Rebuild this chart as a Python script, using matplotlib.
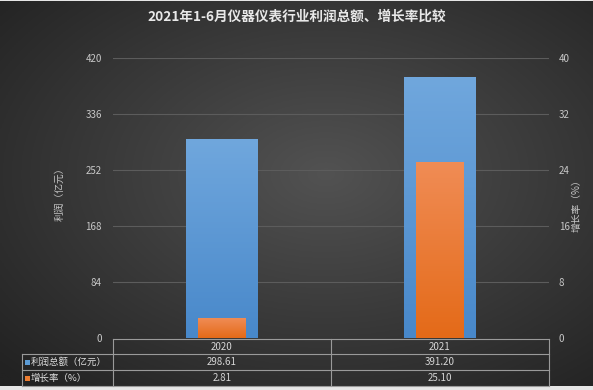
import matplotlib.pyplot as plt
import matplotlib.transforms as mtransforms
from matplotlib.patches import Rectangle
import numpy as np

# Data
years = ['2020', '2021']
profit = [298.61, 391.20]      # 利润总额（亿元）
growth = [2.81, 25.10]         # 增长率（%）
profit_ticks = [0, 84, 168, 252, 336, 420]
growth_ticks = [0, 8, 16, 24, 32, 40]
title = '2021年1-6月仪器仪表行业利润总额、增长率比较'
row_labels = ['利润总额（亿元）', '增长率（%）']

plt.rcParams['font.family'] = ['Noto Sans CJK SC', 'DejaVu Sans']

W, H = 593, 390
fig = plt.figure(figsize=(W / 100, H / 100), dpi=100)
fig.patch.set_facecolor('#e6e6e6')

# Dark radial background
bg = fig.add_axes([0, 4 / H, 1, 1 - 5 / H])
bg.set_zorder(-1)
xx, yy = np.meshgrid(np.linspace(0, 1, 300), np.linspace(0, 1, 200))
r = np.sqrt(((xx - 0.55) / 0.75) ** 2 + ((yy - 0.45) / 0.75) ** 2)
r = np.clip(r, 0, 1)
inner, outer = np.array([0x52, 0x52, 0x52]) / 255, np.array([0x22, 0x22, 0x22]) / 255
img = inner[None, None, :] * (1 - r[..., None]) + outer[None, None, :] * r[..., None]
bg.imshow(img, extent=[0, 1, 0, 1], aspect='auto', origin='upper')
bg.axis('off')

# Plot area (pixels: x 113-549, y 58-338)
ax = fig.add_axes([113 / W, 1 - 338 / H, 436 / W, 280 / H])
ax.set_zorder(1)
ax.patch.set_visible(False)
ax2 = ax.twinx()
ax2.set_zorder(2)
ax2.patch.set_visible(False)

x = np.arange(len(years))
blue_bars = ax.bar(x, profit, width=0.33, color='#5b9bd5', zorder=2)
orange_bars = ax2.bar(x, growth, width=0.22, color='#ed7d31', zorder=2)


def gradient_fill(axis, bars, top, bottom):
    top = np.array(top) / 255
    bottom = np.array(bottom) / 255
    t = np.linspace(0, 1, 100)[:, None]
    grad = (top * (1 - t) + bottom * t)[:, None, :]
    for b in bars:
        x0, y0 = b.get_x(), b.get_y()
        im = axis.imshow(grad, extent=[x0, x0 + b.get_width(), y0, y0 + b.get_height()],
                         aspect='auto', origin='upper', zorder=3)
        im.set_clip_path(b)


gradient_fill(ax, blue_bars, [0x70, 0xa7, 0xdd], [0x48, 0x88, 0xca])
gradient_fill(ax2, orange_bars, [0xf0, 0x8c, 0x55], [0xe4, 0x6a, 0x18])

ax.set_xlim(-0.5, 1.5)
ax.set_ylim(0, 420)
ax2.set_ylim(0, 40)
ax.set_yticks(profit_ticks)
ax2.set_yticks(growth_ticks)
ax.set_xticks([])
ax.tick_params(axis='y', length=0, pad=8, labelsize=7, labelcolor='#c8c8c8')
ax2.tick_params(axis='y', length=0, pad=7, labelsize=7, labelcolor='#c8c8c8')
for a in (ax, ax2):
    for s in a.spines.values():
        s.set_visible(False)
for t in profit_ticks[1:]:
    ax.axhline(t, color='#5c5c5c', lw=0.8, zorder=1)

# Titles
fig.text(0.5, 1 - 17 / H, title, ha='center', va='center', fontsize=9.8,
         fontweight='bold', color='#e8e8e8')
fig.text(60 / W, 1 - 192 / H, '利润（亿元）', rotation=90, ha='center', va='center',
         fontsize=7, color='#c8c8c8')
fig.text(577 / W, 1 - 203 / H, '增长率（%）', rotation=90, ha='center', va='center',
         fontsize=7, color='#c8c8c8')

# Data table under the plot
trans = mtransforms.blended_transform_factory(ax.transData, ax.transAxes)
line_kw = dict(color='#9a9a9a', lw=0.8, transform=trans, clip_on=False, zorder=5)
y_rows = [(338 - p) / 280 for p in (339, 354, 370, 386)]
x_left, x_mid, x_right = -0.5, 0.5, 1.5
px = 1 / 218  # one pixel in data units along x
x_label = -0.5 - 91 * px
ax.plot([x_left, x_right], [y_rows[0]] * 2, **line_kw)
for yv in y_rows[1:]:
    ax.plot([x_label, x_right], [yv] * 2, **line_kw)
ax.plot([x_left, x_left], [y_rows[0], y_rows[3]], **line_kw)
ax.plot([x_mid, x_mid], [y_rows[0], y_rows[3]], **line_kw)
ax.plot([x_right, x_right], [y_rows[0], y_rows[3]], **line_kw)
ax.plot([x_label, x_label], [y_rows[1], y_rows[3]], **line_kw)

txt_kw = dict(transform=trans, fontsize=7, color='#d6d6d6', va='center', clip_on=False)
for i, yr in enumerate(years):
    ax.text(x[i], (y_rows[0] + y_rows[1]) / 2, yr, ha='center', **txt_kw)
    ax.text(x[i], (y_rows[1] + y_rows[2]) / 2, f'{profit[i]:.2f}', ha='center', **txt_kw)
    ax.text(x[i], (y_rows[2] + y_rows[3]) / 2, f'{growth[i]:.2f}', ha='center', **txt_kw)
sq_h = 5 / 280
for j, (lab, col) in enumerate(zip(row_labels, ['#5b9bd5', '#ed7d31'])):
    yc = (y_rows[j + 1] + y_rows[j + 2]) / 2
    ax.add_patch(Rectangle((x_label + 3 * px, yc - sq_h / 2), 5 * px, sq_h,
                           facecolor=col, edgecolor='none', transform=trans,
                           clip_on=False, zorder=5))
    ax.text(x_label + 9 * px, yc, lab, ha='left', transform=trans, fontsize=6.8,
            color='#e0e0e0', va='center', clip_on=False)

fig.savefig('out.png', dpi=100, facecolor=fig.get_facecolor())
